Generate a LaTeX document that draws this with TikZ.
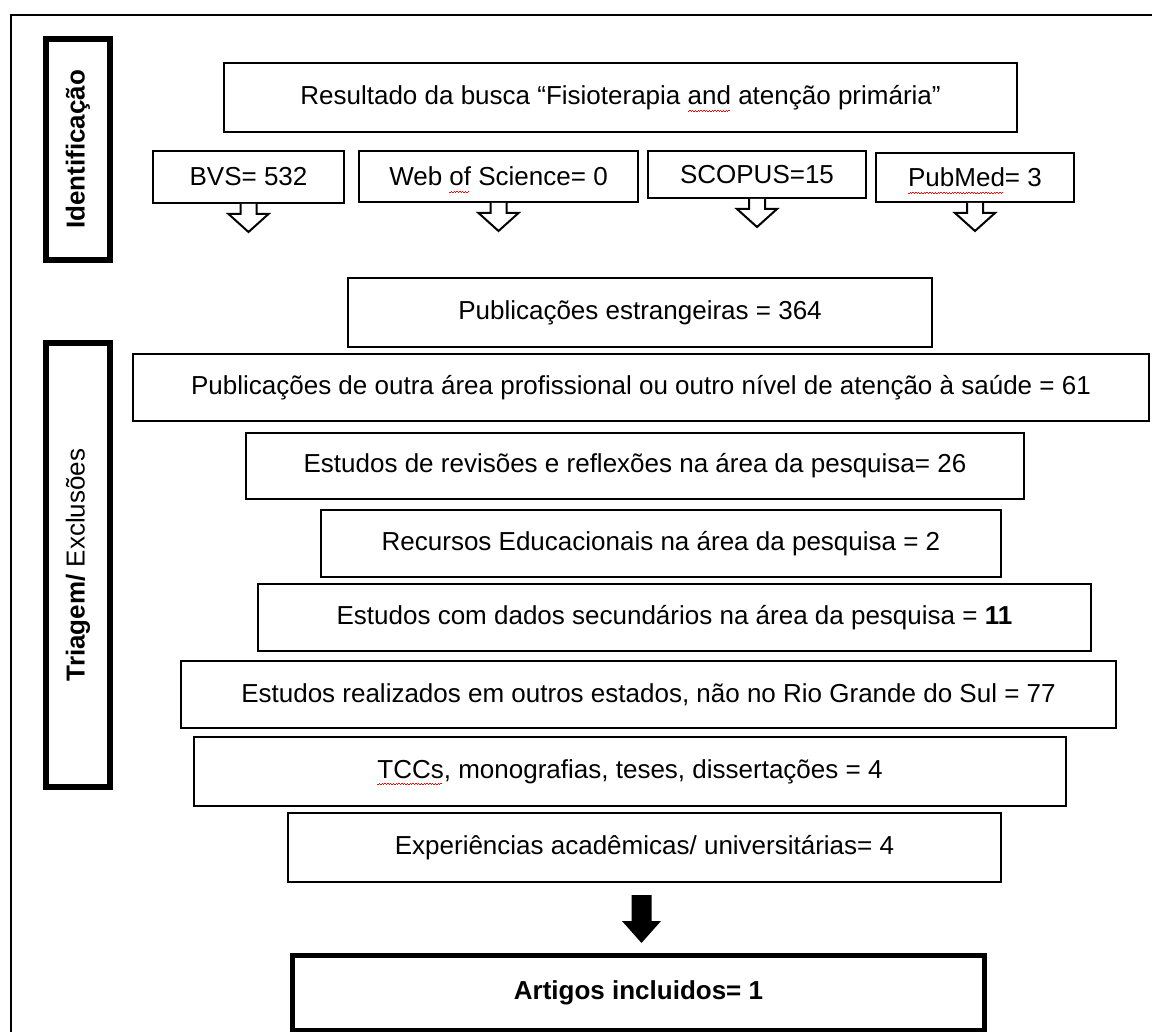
\documentclass[tikz,border=0pt]{standalone}
\usepackage{fontspec}
\setmainfont{Liberation Sans}
\usetikzlibrary{calc}
\newcommand\sq[1]{\setbox0\hbox{#1}\rlap{\smash{\color{red}\leaders\hbox{\rule[-3.6pt]{0.7pt}{0.45pt}\rule[-3.1pt]{0.7pt}{0.45pt}}\hskip\wd0}}\box0\relax}
\newcommand\callout[1]{%
  \draw[line width=1pt, fill=white] ($(#1.south)+(-8,0)$) -- ++(0,10) -- ++(-12,0)
    -- ($(#1.south)+(0,28)$) -- ($(#1.south)+(20,10)$) -- ++(-12,0) -- ++(0,-10);}
\begin{document}
\begin{tikzpicture}[x=0.5pt,y=-0.5pt,
  txt/.style={font=\fontsize{13}{15.6}\selectfont},
  box/.style={draw, line width=1pt, inner sep=0pt, align=center, txt},
  thickbox/.style={draw, line width=3pt, inner sep=0pt},
  ]
\useasboundingbox (0,0) rectangle (1152,1032);
% outer frame (right and bottom edges lie outside the picture)
\draw[line width=1pt] (1152,15) -- (11,15) -- (11,1032);

% side labels
\node[thickbox, minimum width=32pt, minimum height=110.5pt] (ident) at (78,149.5) {};
\node[rotate=90, txt, font=\fontsize{13}{15.6}\selectfont\bfseries] (identl) at (ident.center) {Identificação};
\node[thickbox, minimum width=32pt, minimum height=222pt] (tri) at (78,565) {};
\node[rotate=90, txt] (tril) at (tri.center) {\textbf{Triagem/} Exclusões};

% identification boxes
\node[box, minimum width=396.5pt, minimum height=34.5pt] (res) at (620.5,97.5)
  {Resultado da busca “Fisioterapia \sq{and} atenção primária”};
\node[box, minimum width=95.5pt, minimum height=26pt] (bvs) at (248.5,177) {BVS= 532};
\node[box, minimum width=139.5pt, minimum height=25.5pt] (wos) at (498.5,176.5) {Web \sq{of} Science= 0};
\node[box, minimum width=109pt, minimum height=23.5pt] (sco) at (757,174.5) {SCOPUS=15};
\node[box, minimum width=99pt, minimum height=24.5pt] (pub) at (975,177.5) {\sq{PubMed}= 3};
\callout{bvs}
\callout{wos}
\callout{sco}
\callout{pub}

% screening / exclusion boxes
\node[box, minimum width=292pt, minimum height=34.5pt] (est) at (640,312.5) {Publicações estrangeiras = 364};
\node[box, minimum width=508pt, minimum height=33.5pt] (out) at (641,387.5)
  {Publicações de outra área profissional ou outro nível de atenção à saúde = 61};
\node[box, minimum width=389pt, minimum height=33pt] (rev) at (635,466)
  {Estudos de revisões e reflexões na área da pesquisa= 26};
\node[box, minimum width=340pt, minimum height=33.5pt] (rec) at (661,543.5)
  {Recursos Educacionais na área da pesquisa = 2};
\node[box, minimum width=416.5pt, minimum height=33.5pt] (sec) at (674.5,617.5)
  {Estudos com dados secundários na área da pesquisa = \textbf{11}};
\node[box, minimum width=467.5pt, minimum height=33.5pt] (rs) at (648.5,694.5)
  {Estudos realizados em outros estados, não no Rio Grande do Sul = 77};
\node[box, minimum width=436pt, minimum height=34.5pt] (tcc) at (630,771.5)
  {\sq{TCCs}, monografias, teses, dissertações = 4};
\node[box, minimum width=356.5pt, minimum height=34.5pt] (exp) at (644.5,847.5)
  {Experiências acadêmicas/ universitárias= 4};

% included
\node[box, line width=2.5pt, minimum width=346pt, minimum height=37.5pt, font=\fontsize{13}{15.6}\selectfont\bfseries] (art) at (638.5,993)
  {Artigos incluidos= 1};

% bold down arrow from exp to art
\coordinate (ah) at ($(exp.south)!0.5!(art.north)$);
\fill ($(ah)+(-10,-23)$) -- ($(ah)+(-10,3)$) -- ($(ah)+(-19.5,3)$) -- ($(ah)+(0,25)$)
  -- ($(ah)+(19.5,3)$) -- ($(ah)+(10,3)$) -- ($(ah)+(10,-23)$) -- cycle;
\end{tikzpicture}
\end{document}
